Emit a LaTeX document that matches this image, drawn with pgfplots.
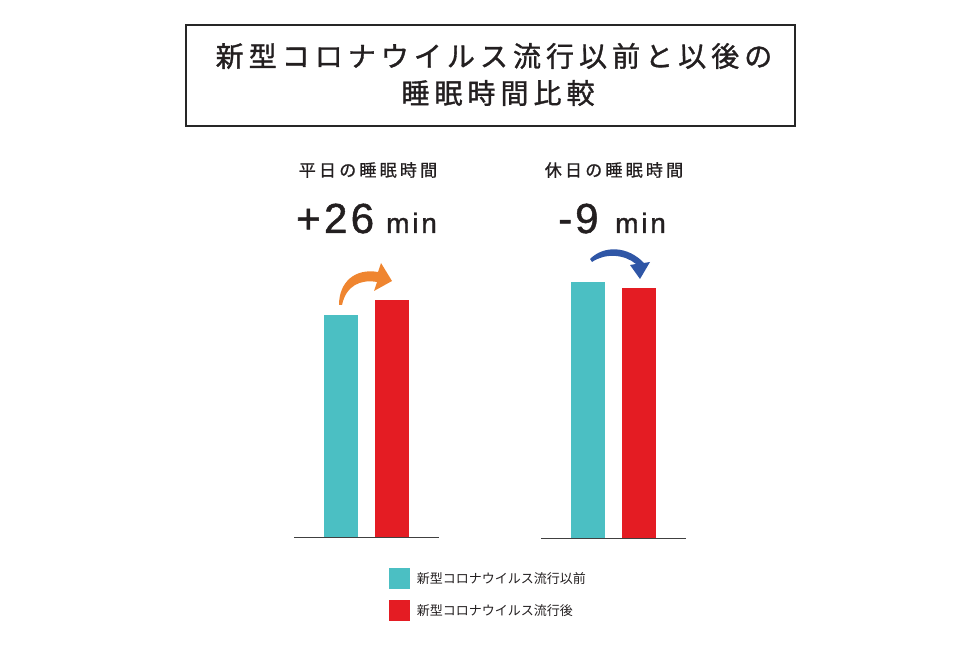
\documentclass[border=0pt]{standalone}
\usepackage{pgfplots}
\pgfplotsset{compat=1.18}
\usepackage{fontspec}
\usetikzlibrary{arrows.meta}
\setmainfont{Liberation Sans}
\newfontfamily\cjk{Noto Sans CJK JP}
\newfontfamily\cjktitle[LetterSpace=18,FakeBold=1.2]{Noto Sans CJK JP}
\newfontfamily\cjksub[LetterSpace=19,FakeBold=0.9]{Noto Sans CJK JP}
\newfontfamily\numfont[LetterSpace=8,FakeBold=1.2]{Liberation Sans}
\newfontfamily\minfont[LetterSpace=10,FakeBold=1.2]{Liberation Sans}
\definecolor{tealbar}{HTML}{4BBFC3}
\definecolor{redbar}{HTML}{E41C23}
\definecolor{orangearrow}{HTML}{EF8530}
\definecolor{bluearrow}{HTML}{2F56A6}
\definecolor{txt}{HTML}{231F20}
\begin{document}
\begin{tikzpicture}[x=1pt,y=1pt]
\useasboundingbox (0,0) rectangle (980,653);
% left group (weekday)
\begin{axis}[
  at={(294pt,116pt)}, anchor=south west,
  scale only axis, width=145pt, height=288.5pt,
  xmin=-0.92, xmax=1.92, ymin=0, ymax=500,
  axis x line=bottom, axis y line=none,
  x axis line style={-, draw=black!75, line width=0.9pt},
  xtick=\empty, ytick=\empty,
  ybar, bar width=0.667, bar shift=0pt,
  clip=false,
  legend style={at={(0.655,-0.107)}, anchor=north west, draw=none, fill=none,
    font=\cjk\fontsize{13pt}{15pt}\selectfont, text=txt, row sep=11pt,
    inner sep=0pt, outer sep=0pt, nodes={inner sep=0pt, outer sep=0pt}},
  legend image code/.code={\fill[#1] (0pt,-10.5pt) rectangle (21pt,10.5pt);},
  legend cell align=left,
]
\addplot[fill=tealbar, draw=none] coordinates {(0,384)};
\addplot[fill=redbar, draw=none] coordinates {(1,410)};
\legend{\hspace{7pt}新型コロナウイルス流行以前, \hspace{7pt}新型コロナウイルス流行後}
\end{axis}
% right group (holiday)
\begin{axis}[
  at={(541pt,115pt)}, anchor=south west,
  scale only axis, width=145pt, height=288.5pt,
  xmin=-0.92, xmax=1.92, ymin=0, ymax=500,
  axis x line=bottom, axis y line=none,
  x axis line style={-, draw=black!75, line width=0.9pt},
  xtick=\empty, ytick=\empty,
  ybar, bar width=0.667, bar shift=0pt,
  clip=false,
]
\addplot[fill=tealbar, draw=none] coordinates {(0,443)};
\addplot[fill=redbar, draw=none] coordinates {(1,434)};
\end{axis}
\begin{scope}[shift={(0pt,653pt)}, x=1pt, y=-1pt]
% title box
\draw[line width=2pt, black!85] (186,25) rectangle (795,126);
\node[font=\cjktitle\fontsize{28pt}{30pt}\selectfont, text=txt, inner sep=0pt] at (494,56) {新型コロナウイルス流行以前と以後の};
\node[font=\cjktitle\fontsize{28pt}{30pt}\selectfont, text=txt, inner sep=0pt] at (498,93) {睡眠時間比較};
% subtitles
\node[font=\cjksub\fontsize{17pt}{19pt}\selectfont, text=txt, inner sep=0pt] at (368,170) {平日の睡眠時間};
\node[font=\cjksub\fontsize{17pt}{19pt}\selectfont, text=txt, inner sep=0pt] at (614,170) {休日の睡眠時間};
% differences
\node[font=\numfont\fontsize{42pt}{44pt}\selectfont, text=txt, inner sep=0pt, anchor=base west] at (296,233) {+26};
\node[font=\minfont\fontsize{28pt}{30pt}\selectfont, text=txt, inner sep=0pt, anchor=base west] at (386,233) {min};
\node[font=\numfont\fontsize{42pt}{44pt}\selectfont, text=txt, inner sep=0pt, anchor=base west] at (558,233) {-\hspace{3pt}9};
\node[font=\minfont\fontsize{28pt}{30pt}\selectfont, text=txt, inner sep=0pt, anchor=base west] at (615,233) {min};
% orange arrow
\fill[orangearrow] (339,305) .. controls (339,282) and (355,268) .. (378,272)
  -- (381,263) -- (392,281) -- (374,291) -- (377,282)
  .. controls (360,279) and (346,286) .. (342,305) -- cycle;
% blue arrow
\fill[bluearrow] (590,259) .. controls (604,245) and (628,246) .. (644,263)
  -- (650,262) -- (640,279) -- (630,265) -- (636,264)
  .. controls (624,254) and (605,253) .. (592,262) -- cycle;
\end{scope}
\end{tikzpicture}
\end{document}
